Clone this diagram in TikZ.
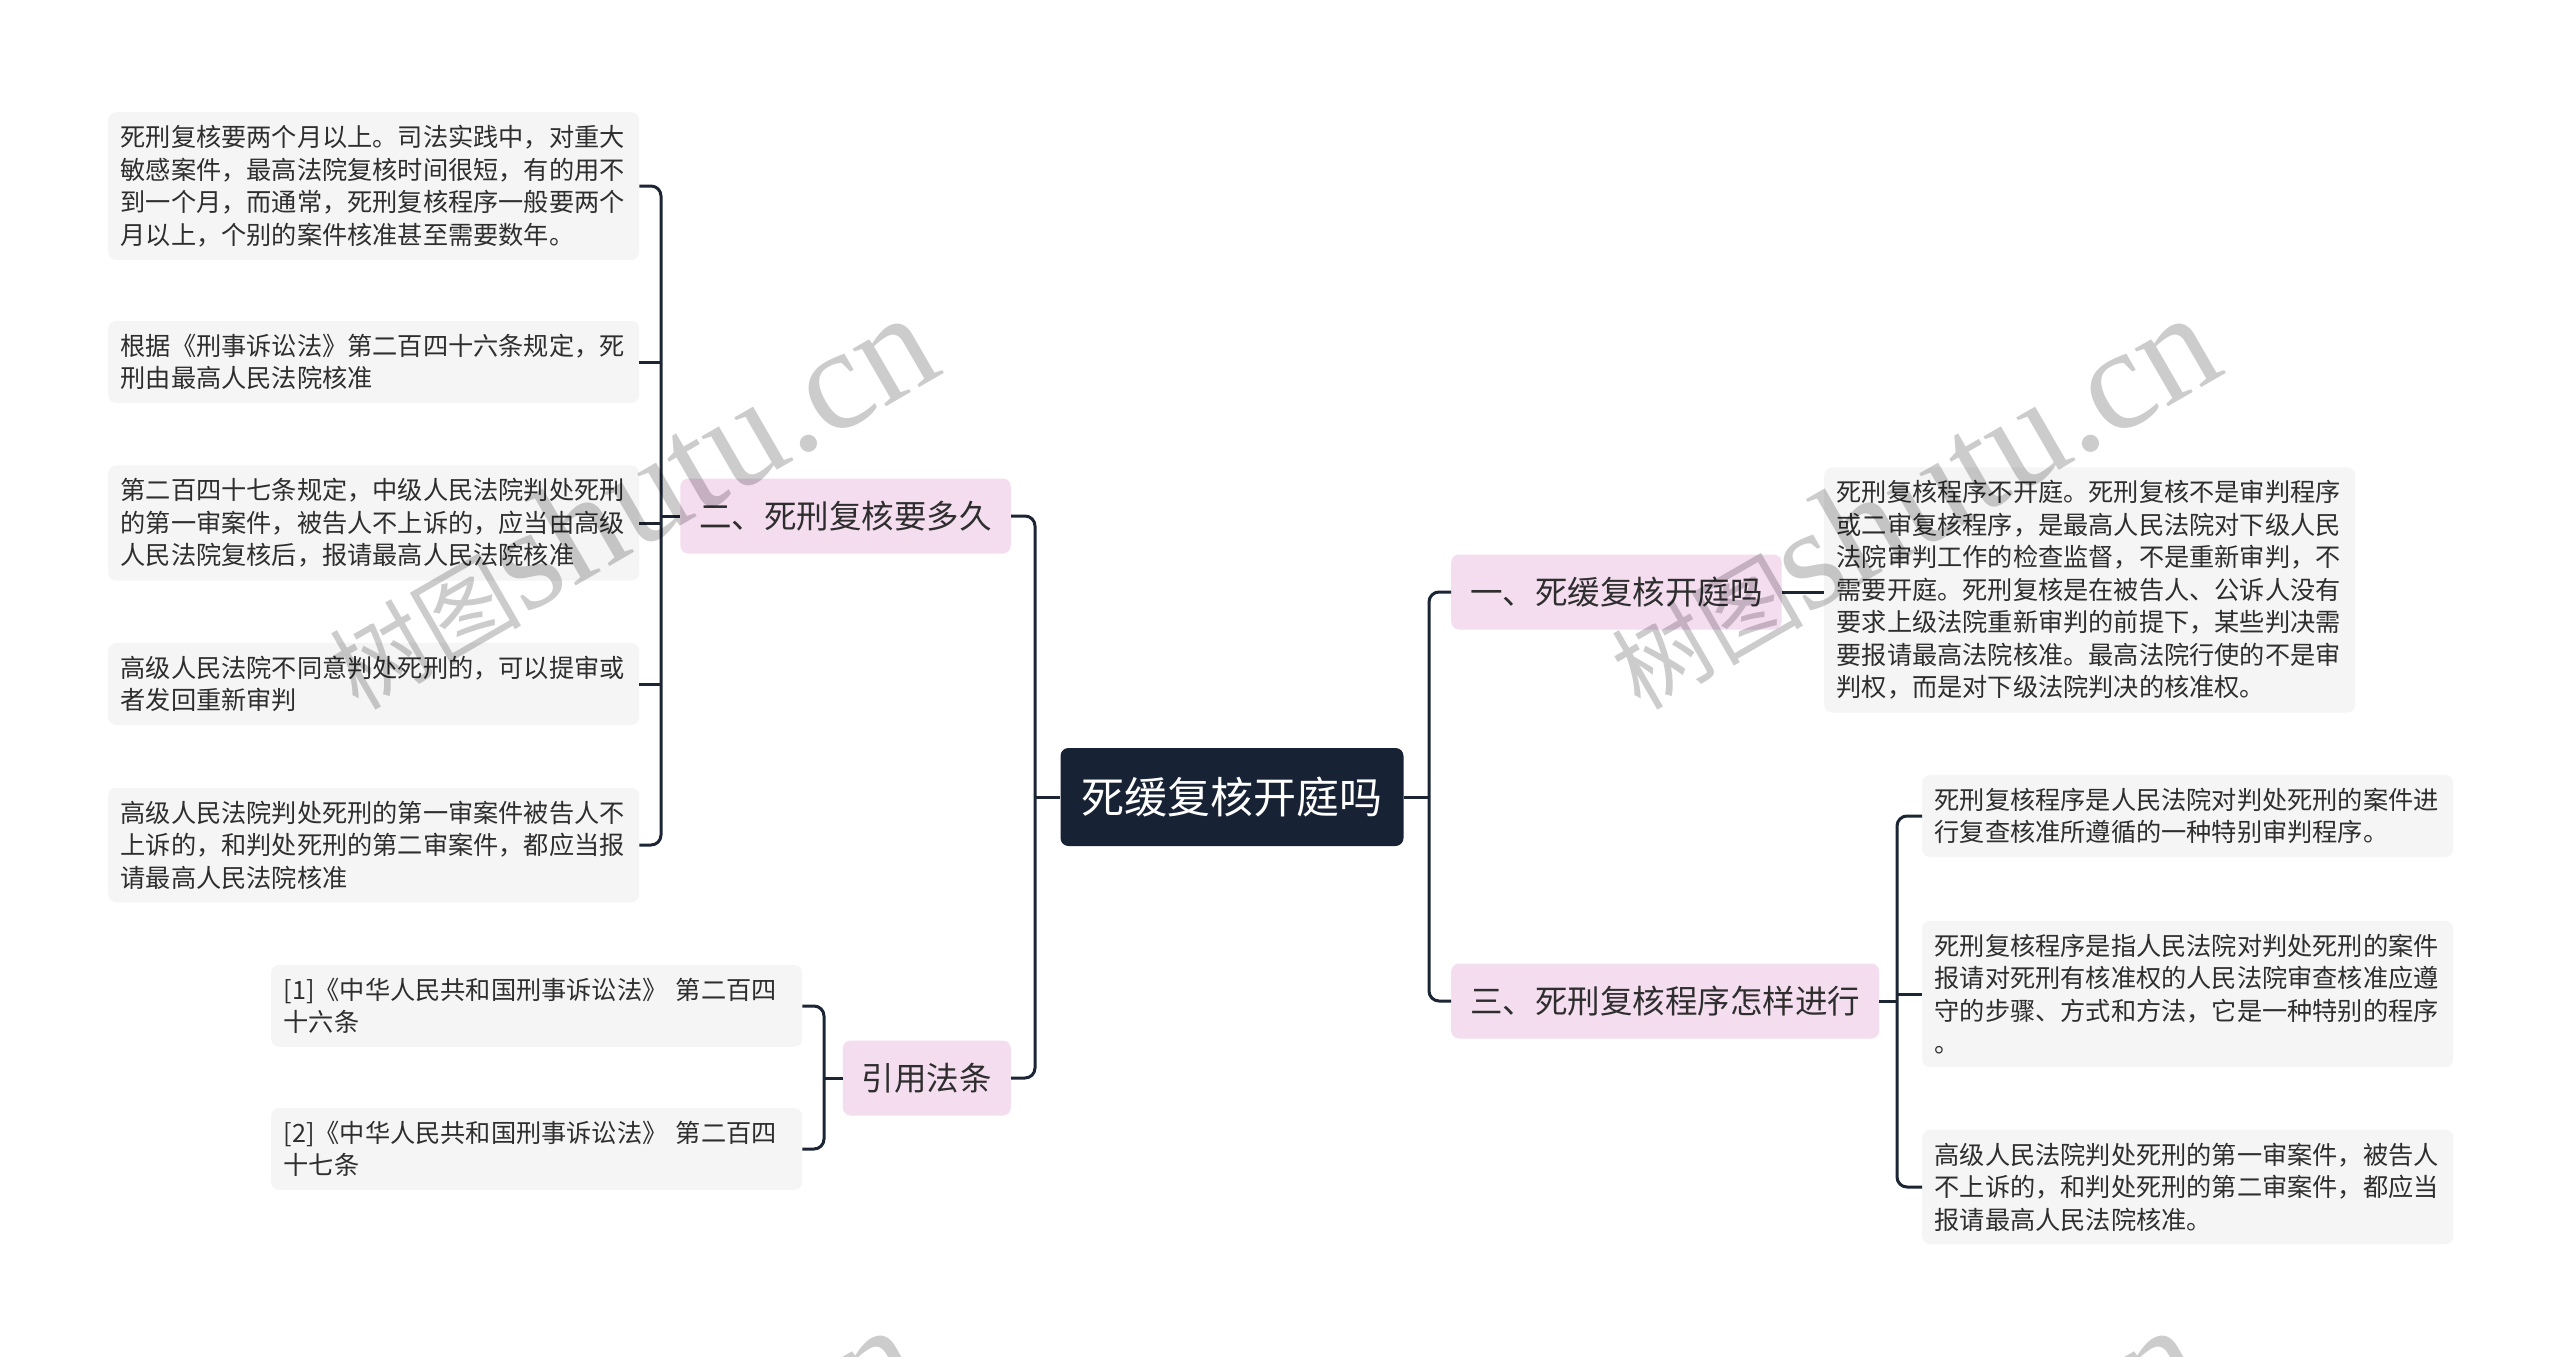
\documentclass[tikz,border=0pt]{standalone}
\usepackage{fontspec}
\setmainfont{Noto Sans CJK SC}
\newfontfamily\wmlatin{Liberation Serif}
\definecolor{ink}{HTML}{1B2533}
\definecolor{leaffill}{HTML}{F5F5F5}
\definecolor{pinkfill}{HTML}{F5DDF0}
\definecolor{rootfill}{HTML}{172234}
\definecolor{txt}{HTML}{2E2E2E}
\tikzset{
  leaf/.style={fill=leaffill, rounded corners=8pt, text width=506pt, inner xsep=12.5pt, inner ysep=13pt,
    align=left, font=\fontsize{25.2}{32.5}\selectfont, text=txt, anchor=west},
  branch/.style={fill=pinkfill, rounded corners=8pt, inner xsep=19pt, inner ysep=0pt, minimum height=75pt,
    font=\fontsize{32.5}{32.5}\selectfont, text=txt},
  root/.style={fill=rootfill, rounded corners=8pt, inner xsep=21pt, inner ysep=0pt, minimum height=98pt,
    text=white, font=\fontsize{43}{43}\selectfont},
  conn/.style={draw=ink, line width=3pt, rounded corners=10pt},
  wm/.style={text=black, text opacity=0.2, inner sep=0pt, anchor=base west, rotate=30}
}
\begin{document}
\begin{tikzpicture}[x=1pt, y=-1pt]
\useasboundingbox (0,0) rectangle (2560,1357);
\fill[white] (0,0) rectangle (2560,1357);

% central and branch nodes
\node[root] (c) at (1232,797) {死缓复核开庭吗};
\node[branch, anchor=west] (b1) at (1451,592) {一、死缓复核开庭吗};
\node[branch, anchor=west] (b3) at (1451,1001) {三、死刑复核程序怎样进行};
\node[branch, anchor=east] (b2) at (1011,516) {二、死刑复核要多久};
\node[branch, anchor=east] (b4) at (1011,1078) {引用法条};

% left leaves
\node[leaf] (l1) at (108,186) {死刑复核要两个月以上。司法实践中，对重大\\敏感案件，最高法院复核时间很短，有的用不\\到一个月，而通常，死刑复核程序一般要两个\\月以上，个别的案件核准甚至需要数年。};
\node[leaf] (l2) at (108,362) {根据《刑事诉讼法》第二百四十六条规定，死\\刑由最高人民法院核准};
\node[leaf] (l3) at (108,523) {第二百四十七条规定，中级人民法院判处死刑\\的第一审案件，被告人不上诉的，应当由高级\\人民法院复核后，报请最高人民法院核准};
\node[leaf] (l4) at (108,684) {高级人民法院不同意判处死刑的，可以提审或\\者发回重新审判};
\node[leaf] (l5) at (108,845) {高级人民法院判处死刑的第一审案件被告人不\\上诉的，和判处死刑的第二审案件，都应当报\\请最高人民法院核准};

% citations
\node[leaf] (p1) at (271,1006) {[1]《中华人民共和国刑事诉讼法》 第二百四\\十六条};
\node[leaf] (p2) at (271,1149) {[2]《中华人民共和国刑事诉讼法》 第二百四\\十七条};

% right leaves
\node[leaf] (r1) at (1824,590) {死刑复核程序不开庭。死刑复核不是审判程序\\或二审复核程序，是最高人民法院对下级人民\\法院审判工作的检查监督，不是重新审判，不\\需要开庭。死刑复核是在被告人、公诉人没有\\要求上级法院重新审判的前提下，某些判决需\\要报请最高法院核准。最高法院行使的不是审\\判权，而是对下级法院判决的核准权。};
\node[leaf] (r3a) at (1922,816) {死刑复核程序是人民法院对判处死刑的案件进\\行复查核准所遵循的一种特别审判程序。};
\node[leaf] (r3b) at (1922,994) {死刑复核程序是指人民法院对判处死刑的案件\\报请对死刑有核准权的人民法院审查核准应遵\\守的步骤、方式和方法，它是一种特别的程序\\。};
\node[leaf] (r3c) at (1922,1187) {高级人民法院判处死刑的第一审案件，被告人\\不上诉的，和判处死刑的第二审案件，都应当\\报请最高人民法院核准。};

% junction coordinates
\coordinate (lt) at (1035,797);
\coordinate (rt) at (1429,797);
\coordinate (k2) at (661,516);
\coordinate (k4) at (824,1078);
\coordinate (k3) at (1897,1001);

% connectors
\draw[conn] (c.west) -- (lt);
\draw[conn] (b2.east) -| (lt) |- (b4.east);
\draw[conn] (c.east) -- (rt);
\draw[conn] (b1.west) -| (rt) |- (b3.west);
\draw[conn] (b1.east) -- (b1.east -| r1.west);

\draw[conn] (b2.west) -- (k2);
\draw[conn] (l1.east) -| (k2) |- (l5.east);
\draw[conn] (l2.east) -- (l2.east -| k2);
\draw[conn] (l3.east) -- (l3.east -| k2);
\draw[conn] (l4.east) -- (l4.east -| k2);

\draw[conn] (b4.west) -- (k4);
\draw[conn] (p1.east) -| (k4) |- (p2.east);

\draw[conn] (b3.east) -- (k3);
\draw[conn] (r3a.west) -| (k3) |- (r3c.west);
\draw[conn] (r3b.west) -- (r3b.west -| k3);

% watermarks
\begin{scope}
\clip (0,0) rectangle (2560,1357);
\foreach \dx/\dy [count=\i] in {0/0, 1282/0, -17/1012, 1265/1012} {
  \node[wm] (wm\i) at (358+\dx, 712+\dy) {\fontsize{96}{96}\selectfont 树图\wmlatin\fontsize{145}{145}\selectfont shutu.cn};
}
\end{scope}
\end{tikzpicture}
\end{document}
